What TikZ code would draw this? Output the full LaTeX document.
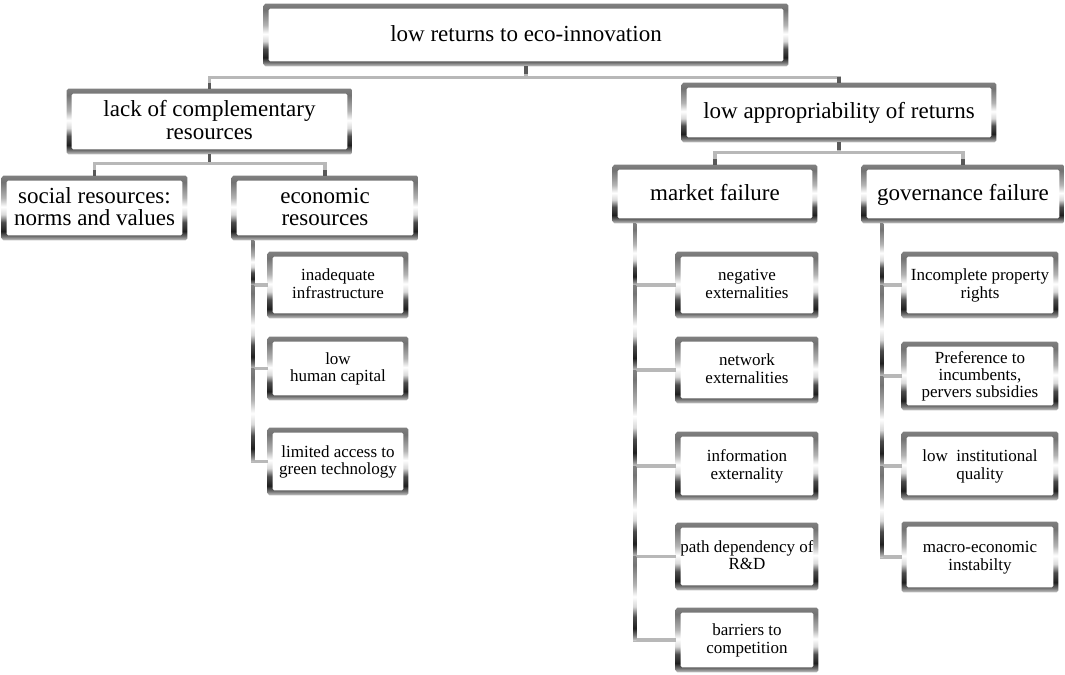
\documentclass[tikz,border=0pt]{standalone}
\usepackage{fontspec}
\setmainfont{Liberation Serif}
\pgfdeclareverticalshading{metal}{100bp}{%
color(0bp)=(black!22);
color(25bp)=(black!22);
color(28bp)=(black!55);
color(32bp)=(black!88);
color(39bp)=(black!70);
color(45bp)=(black!15);
color(51bp)=(white);
color(58bp)=(black!30);
color(70bp)=(black!55);
color(75bp)=(black!50);
color(100bp)=(black!50)}
\tikzset{
  bigtxt/.style={font=\fontsize{17.25}{16.8}\selectfont},
  smalltxt/.style={font=\fontsize{12.75}{13}\selectfont},
  conn/.style={draw=black!28, line width=2.4pt},
  stub/.style={draw=black!65, line width=2.4pt},
}
\newcommand\mkbox[7]{%
  \pgfmathsetmacro\bw{(#4-#2)*0.75}%
  \pgfmathsetmacro\bh{(#5-#3)*0.75}%
  \node[#6, align=center, inner sep=0pt, fill=white, minimum width=\bw pt, minimum height=\bh pt] (#1) at ({(#2+#4)/2},{(#3+#5)/2}) {\rule{0pt}{0.85em}#7\strut};
  \shade[shading=metal, even odd rule, rounded corners=1.2pt] (#1.south west) rectangle (#1.north east) ([shift={(3.6pt,3.6pt)}]#1.south west) rectangle ([shift={(-3.6pt,-3.6pt)}]#1.north east);
}
\newcommand\trseg[3]{%
  \shade[shading=metal] (#1 |- #2) rectangle (#1R |- #3);
}
\begin{document}
\begin{tikzpicture}[x=0.75pt,y=-0.75pt]
\useasboundingbox (0,0) rectangle (1065,675);
% boxes
\mkbox{top}{264}{4}{788}{66}{bigtxt}{low returns to eco-innovation}
\mkbox{lack}{67}{89}{352}{154}{bigtxt}{lack of complementary\\resources}
\mkbox{appr}{682}{83}{996}{142}{bigtxt}{low appropriability of returns}
\mkbox{social}{2}{176}{187}{240}{bigtxt}{social resources:\\norms and values}
\mkbox{econ}{232}{176}{418}{240}{bigtxt}{economic\\resources}
\mkbox{market}{613}{165}{817}{223}{bigtxt}{market failure}
\mkbox{gov}{862}{165}{1064}{223}{bigtxt}{governance failure}
\mkbox{infra}{268}{252}{408}{318}{smalltxt}{inadequate\\infrastructure}
\mkbox{human}{268}{337}{408}{400}{smalltxt}{low\\human capital}
\mkbox{green}{268}{428}{408}{495}{smalltxt}{limited access to\\green technology}
\mkbox{neg}{676}{252}{818}{318}{smalltxt}{negative\\externalities}
\mkbox{netw}{676}{337}{818}{403}{smalltxt}{network\\externalities}
\mkbox{info}{676}{432}{818}{500}{smalltxt}{information\\externality}
\mkbox{path}{676}{523}{818}{590}{smalltxt}{path dependency of\\R\&D}
\mkbox{barr}{676}{608}{818}{672}{smalltxt}{barriers to\\competition}
\mkbox{prop}{902}{252}{1058}{318}{smalltxt}{Incomplete property\\rights}
\mkbox{pref}{902}{342}{1058}{410}{smalltxt}{Preference to\\incumbents,\\pervers subsidies}
\mkbox{inst}{902}{432}{1058}{500}{smalltxt}{low~ institutional\\quality}
\mkbox{macro}{902}{522}{1058}{592}{smalltxt}{macro-economic\\instabilty}
% upper connectors
\draw[conn] (top.south) -- ++(0,11) -| (lack.north);
\draw[conn] (top.south) -- ++(0,11) -| (appr.north);
\draw[conn] (lack.south) -- ++(0,9) -| (social.north);
\draw[conn] (lack.south) -- ++(0,9) -| (econ.north);
\draw[conn] (appr.south) -- ++(0,10) -| (market.north);
\draw[conn] (appr.south) -- ++(0,10) -| (gov.north);
\foreach \n in {top,lack,appr}{\draw[stub] (\n.south) -- ++(0,8);}
\foreach \n in {lack,appr,social,econ,market,gov}{\draw[stub] (\n.north) -- ++(0,-6);}
% trunks
\coordinate (te) at ([xshift=15.75pt]econ.south west);
\coordinate (teL) at ([xshift=14.55pt]econ.south west);
\coordinate (teLR) at ([xshift=16.95pt]econ.south west);
\coordinate (tm) at ([xshift=16.5pt]market.south west);
\coordinate (tmL) at ([xshift=15.3pt]market.south west);
\coordinate (tmLR) at ([xshift=17.7pt]market.south west);
\coordinate (tg) at ([xshift=15pt]gov.south west);
\coordinate (tgL) at ([xshift=13.8pt]gov.south west);
\coordinate (tgLR) at ([xshift=16.2pt]gov.south west);
\foreach \c in {infra,human,green}{\draw[conn] (te) |- (\c.west);}
\foreach \c in {neg,netw,info,path,barr}{\draw[conn] (tm) |- (\c.west);}
\foreach \c in {prop,pref,inst,macro}{\draw[conn] (tg) |- (\c.west);}
\trseg{teL}{te}{infra.west}
\trseg{teL}{infra.west}{human.west}
\trseg{teL}{human.west}{green.west}
\trseg{tmL}{tm}{neg.west}
\trseg{tmL}{neg.west}{netw.west}
\trseg{tmL}{netw.west}{info.west}
\trseg{tmL}{info.west}{path.west}
\trseg{tmL}{path.west}{barr.west}
\trseg{tgL}{tg}{prop.west}
\trseg{tgL}{prop.west}{pref.west}
\trseg{tgL}{pref.west}{inst.west}
\trseg{tgL}{inst.west}{macro.west}
\end{tikzpicture}
\end{document}
